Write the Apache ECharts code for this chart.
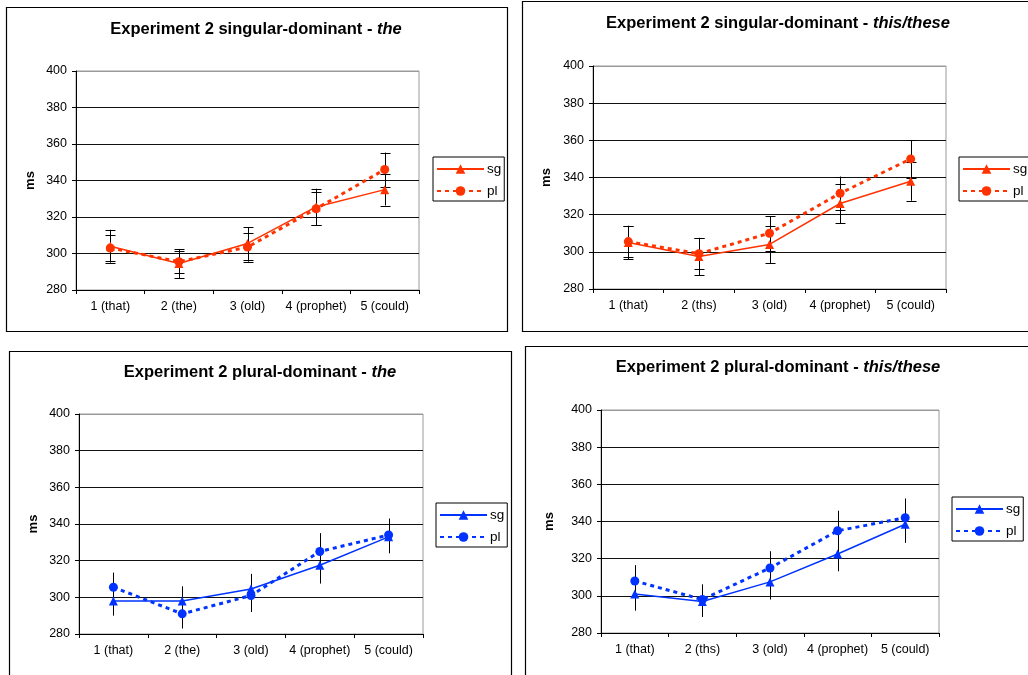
<!DOCTYPE html>
<html><head><meta charset="utf-8">
<script src="https://cdn.jsdelivr.net/npm/echarts@6/dist/echarts.min.js"></script>
<style>html,body{margin:0;padding:0;background:#fff}#c{width:1028px;height:675px}</style>
</head><body><div id="c"></div>
<script>
// ---- data ----
const catsThe  = ['1 (that)', '2 (the)', '3 (old)', '4 (prophet)', '5 (could)'];
const catsThis = ['1 (that)', '2 (ths)', '3 (old)', '4 (prophet)', '5 (could)'];
const yMin = 280, yMax = 400, yStep = 20;
const seriesNames = ['sg', 'pl'];

const titleSgThe  = ['Experiment 2 singular-dominant - ', 'the'];
const titleSgThis = ['Experiment 2 singular-dominant - ', 'this/these'];
const titlePlThe  = ['Experiment 2 plural-dominant - ', 'the'];
const titlePlThis = ['Experiment 2 plural-dominant - ', 'this/these'];

const sgDomThe_sg     = [304, 294.5, 305.5, 325.5, 335];
const sgDomThe_pl     = [303, 295.5, 303.5, 324.5, 346];
const sgDomThe_sgErr  = [9, 8, 9, 10, 8.7];
const sgDomThe_plErr  = [7, 6, 8, 9, 9.3];

const sgDomThis_sg    = [305, 297.5, 304, 326, 338];
const sgDomThis_pl    = [305.5, 299, 310, 331.5, 350];
const sgDomThis_sgErr = [9, 10, 10, 10.5, 10.5];
const sgDomThis_plErr = [8.5, 8.5, 9.3, 9, 10];

const plDomThe_sg     = [298, 298, 304.5, 317.5, 333];
const plDomThe_pl     = [305.5, 291, 301, 325, 334];
const plDomThe_sgErr  = [8, 8, 8.3, 10, 9];
const plDomThe_plErr  = [8, 8, 9, 10, 9];

const plDomThis_sg    = [301, 297, 307.5, 322.5, 338.5];
const plDomThis_pl    = [308, 298, 315, 335, 342];
const plDomThis_sgErr = [9, 8.4, 9.5, 9.3, 10];
const plDomThis_plErr = [8.5, 8.2, 9, 10.8, 10.4];

// ---- layout / style ----
const FONT = 'Liberation Sans, Arial, sans-serif';
const RED = '#FF3300', BLUE = '#0033FF';
const panels = [
  {title: titleSgThe,  cats: catsThe,  sg: sgDomThe_sg,  pl: sgDomThe_pl,  sgE: sgDomThe_sgErr,  plE: sgDomThe_plErr,
   color: RED, caps: true,  grid: {left: 76, top: 71, width: 343, height: 219}, tx: 256, ty: 29,
   box: [6.5, 7.5, 501, 324], legend: {left: 433, top: 157}, nameGap: 39},
  {title: titleSgThis, cats: catsThis, sg: sgDomThis_sg, pl: sgDomThis_pl, sgE: sgDomThis_sgErr, plE: sgDomThis_plErr,
   color: RED, caps: true,  grid: {left: 593, top: 66, width: 353, height: 223}, tx: 778, ty: 23,
   box: [522.5, 1.5, 530, 330], legend: {left: 959, top: 157}, nameGap: 40},
  {title: titlePlThe,  cats: catsThe,  sg: plDomThe_sg,  pl: plDomThe_pl,  sgE: plDomThe_sgErr,  plE: plDomThe_plErr,
   color: BLUE, caps: false, grid: {left: 79, top: 414, width: 344, height: 220}, tx: 260, ty: 372,
   box: [9.5, 351.5, 502, 340], legend: {left: 436, top: 503}, nameGap: 39},
  {title: titlePlThis, cats: catsThis, sg: plDomThis_sg, pl: plDomThis_pl, sgE: plDomThis_sgErr, plE: plDomThis_plErr,
   color: BLUE, caps: false, grid: {left: 601, top: 410, width: 338, height: 223}, tx: 778, ty: 367,
   box: [525.5, 346.5, 530, 340], legend: {left: 952, top: 497}, nameGap: 45}
];

const option = {
  backgroundColor: '#fff',
  animation: false,
  textStyle: {fontFamily: FONT},
  grid: [], xAxis: [], yAxis: [], series: [], legend: [], graphic: []
};

panels.forEach((p, i) => {
  option.grid.push(Object.assign({show: true, borderColor: '#9a9a9a', borderWidth: 1, backgroundColor: '#fff'}, p.grid));
  option.xAxis.push({
    type: 'category', gridIndex: i, data: p.cats, boundaryGap: true,
    axisLine: {lineStyle: {color: '#000', width: 1}},
    axisTick: {show: true, alignWithLabel: false, length: 4, lineStyle: {color: '#000'}},
    axisLabel: {color: '#000', fontSize: 12.5, margin: 10, interval: 0, fontFamily: FONT},
    splitLine: {show: false}
  });
  option.yAxis.push({
    type: 'value', gridIndex: i, min: yMin, max: yMax, interval: yStep,
    name: 'ms', nameLocation: 'middle', nameGap: p.nameGap,
    nameTextStyle: {fontSize: 13, fontWeight: 'bold', color: '#000', fontFamily: FONT},
    axisLine: {show: true, lineStyle: {color: '#000', width: 1}},
    axisTick: {show: true, length: 4, lineStyle: {color: '#000'}},
    axisLabel: {color: '#000', fontSize: 12.5, margin: 9, fontFamily: FONT},
    splitLine: {show: true, lineStyle: {color: ['#000', '#111', '#111', '#111', '#111', '#111', '#9a9a9a'], width: 1}}
  });
  // error bars
  const errData = [];
  p.sg.forEach((v, k) => errData.push([k, v - p.sgE[k], v + p.sgE[k]]));
  p.pl.forEach((v, k) => errData.push([k, v - p.plE[k], v + p.plE[k]]));
  const caps = p.caps;
  option.series.push({
    type: 'custom', name: 'err' + i, xAxisIndex: i, yAxisIndex: i, z: 1, silent: true,
    data: errData,
    renderItem: (params, api) => {
      const x = api.value(0);
      const lo = api.coord([x, api.value(1)]);
      const hi = api.coord([x, api.value(2)]);
      const cx = Math.round(lo[0]) + 0.5;
      const st = {stroke: '#000', lineWidth: 1};
      const ch = [{type: 'line', shape: {x1: cx, y1: lo[1], x2: cx, y2: hi[1]}, style: st}];
      if (caps) {
        ch.push({type: 'line', shape: {x1: cx - 5, y1: Math.round(lo[1]) + 0.5, x2: cx + 5, y2: Math.round(lo[1]) + 0.5}, style: st});
        ch.push({type: 'line', shape: {x1: cx - 5, y1: Math.round(hi[1]) + 0.5, x2: cx + 5, y2: Math.round(hi[1]) + 0.5}, style: st});
      }
      return {type: 'group', children: ch};
    }
  });
  option.series.push({
    type: 'line', name: seriesNames[0] + '#' + i, xAxisIndex: i, yAxisIndex: i, z: 3,
    data: p.sg, symbol: 'triangle', symbolSize: 9,
    itemStyle: {color: p.color}, lineStyle: {color: p.color, width: 1.5, type: 'solid'}
  });
  option.series.push({
    type: 'line', name: seriesNames[1] + '#' + i, xAxisIndex: i, yAxisIndex: i, z: 3,
    data: p.pl, symbol: 'circle', symbolSize: 9,
    itemStyle: {color: p.color}, lineStyle: {color: p.color, width: 3, type: [4, 4]}
  });
  option.legend.push({
    left: p.legend.left, top: p.legend.top, orient: 'vertical',
    data: [seriesNames[0] + '#' + i, seriesNames[1] + '#' + i],
    formatter: n => n.split('#')[0],
    selectedMode: false,
    itemWidth: 47, itemHeight: 12, itemGap: 8,
    padding: [5, 3, 3, 3],
    borderColor: '#000', borderWidth: 1, backgroundColor: '#fff',
    textStyle: {color: '#000', fontSize: 13.5, fontFamily: FONT, padding: [0, 0, 0, -2]}
  });
  option.graphic.push({
    type: 'rect', z: 0, silent: true,
    shape: {x: p.box[0], y: p.box[1], width: p.box[2], height: p.box[3]},
    style: {fill: 'none', stroke: '#000', lineWidth: 1.2}
  });
  option.graphic.push({
    type: 'text', z: 10, silent: true, x: p.tx, y: p.ty,
    style: {
      text: '{b|' + p.title[0] + '}{i|' + p.title[1] + '}',
      align: 'center', verticalAlign: 'middle',
      textAlign: 'center', textVerticalAlign: 'middle',
      fill: '#000',
      rich: {
        b: {fontSize: 16.5, fontWeight: 'bold', fontFamily: FONT, fill: '#000', color: '#000'},
        i: {fontSize: 16.5, fontWeight: 'bold', fontStyle: 'italic', fontFamily: FONT, fill: '#000', color: '#000'}
      }
    }
  });
});

const chart = echarts.init(document.getElementById('c'), null, {renderer: 'canvas'});
chart.setOption(option);
</script>
</body></html>
